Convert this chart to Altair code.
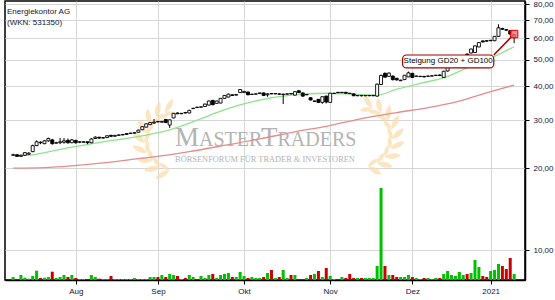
import math
import altair as alt
import pandas as pd

# ---- data: trading-day index 0 = 10 Jul 2020 ... 128 = 12 Jan 2021 ----
opens = [22.3, 22.4, 22.1, 22.3, 22.5, 23.0, 24.2, 24.9, 24.6, 25.2,
         25.4, 24.7, 24.8, 24.9, 25.3, 24.8, 25.3, 24.9, 24.9, 25.0,
         24.8, 25.7, 26.0, 25.8, 25.9, 26.4, 26.2, 26.4, 26.5, 26.6,
         26.8, 26.9, 27.1, 27.7, 28.3, 28.9, 29.3, 29.7, 29.5, 30.2,
         28.8, 30.6, 31.9, 31.7, 32.0, 31.9, 33.1, 33.5, 33.5, 33.7,
         34.1, 35.5, 34.6, 34.7, 36.1, 36.5, 37.2, 37.1, 37.9, 37.9,
         38.1, 37.3, 37.4, 37.6, 37.8, 37.2, 37.6, 37.5, 37.5, 37.3,
         37.4, 37.6, 37.1, 38.5, 37.8, 37.2, 36.3, 35.2, 35.8, 34.9,
         36.8, 34.9, 37.6, 38.0, 37.9, 38.0, 37.7, 37.5, 36.9, 37.0,
         36.9, 36.9, 36.9, 36.8, 40.6, 44.6, 43.5, 43.6, 42.8, 41.9,
         42.3, 43.3, 44.6, 43.5, 43.4, 43.5, 43.5, 43.6, 43.8, 44.0,
         43.1, 45.5, 47.0, 48.2, 49.0, 50.5, 52.5, 53.0, 53.2, 55.8,
         58.7, 58.8, 58.8, 58.8, 61.0, 65.2, 64.6, 64.0, 60.5]
highs = [22.6, 22.5, 22.4, 22.9, 22.9, 24.4, 25.3, 25.1, 25.4, 25.9,
         25.6, 25.0, 25.8, 25.8, 25.7, 25.6, 25.4, 25.1, 25.1, 25.0,
         25.8, 26.2, 26.0, 26.0, 26.4, 26.5, 26.5, 26.6, 26.7, 26.9,
         27.0, 27.1, 27.7, 28.5, 29.2, 29.6, 30.3, 29.8, 29.8, 30.3,
         30.2, 31.9, 32.0, 31.9, 32.1, 32.8, 33.3, 33.6, 33.7, 34.5,
         35.4, 35.6, 35.4, 36.2, 37.1, 37.6, 37.3, 37.4, 39.0, 38.4,
         38.2, 37.5, 37.6, 37.9, 37.9, 37.7, 37.7, 37.7, 37.6, 37.6,
         37.6, 37.7, 38.3, 38.6, 37.9, 37.4, 36.4, 35.4, 35.9, 36.7,
         36.9, 37.8, 37.8, 38.1, 38.1, 38.1, 37.8, 37.6, 37.1, 37.1,
         37.1, 37.1, 37.2, 40.9, 44.2, 45.0, 45.0, 43.8, 42.9, 42.3,
         44.0, 45.3, 44.8, 43.8, 43.7, 43.6, 43.8, 43.9, 44.1, 44.2,
         45.6, 47.3, 48.5, 49.4, 50.9, 52.1, 52.8, 55.0, 56.5, 58.1,
         58.9, 59.0, 59.2, 61.2, 67.6, 65.6, 64.9, 64.3, 62.2]
lows = [22.2, 22.0, 22.0, 22.2, 22.4, 22.9, 24.1, 24.5, 24.5, 25.0,
        24.4, 24.6, 24.5, 24.6, 24.6, 24.7, 24.6, 24.7, 24.8, 24.5,
        24.7, 25.6, 25.6, 25.7, 25.8, 26.0, 26.1, 26.3, 26.4, 26.5,
        26.7, 26.8, 27.0, 27.6, 28.2, 28.8, 29.1, 29.4, 29.4, 29.3,
        28.1, 30.5, 31.6, 31.6, 31.8, 31.8, 33.0, 33.3, 33.4, 33.6,
        34.0, 34.1, 34.5, 34.6, 36.0, 36.4, 36.9, 37.0, 37.8, 37.8,
        37.1, 37.2, 37.3, 37.5, 36.8, 36.6, 37.4, 37.4, 37.2, 34.4,
        37.3, 37.4, 37.0, 37.8, 36.6, 37.1, 35.5, 35.0, 34.7, 34.5,
        34.6, 34.8, 37.5, 37.7, 37.8, 37.6, 37.5, 36.8, 36.8, 36.7,
        36.8, 36.8, 36.8, 36.6, 40.4, 43.0, 43.3, 42.0, 42.0, 41.8,
        42.2, 43.2, 42.9, 43.4, 43.3, 43.1, 43.4, 43.5, 43.7, 43.7,
        43.0, 45.3, 46.8, 48.0, 48.8, 50.3, 51.2, 52.8, 53.0, 55.6,
        58.0, 58.4, 58.6, 58.6, 60.8, 64.4, 63.9, 61.9, 57.6]
closes = [22.4, 22.1, 22.3, 22.8, 22.7, 24.2, 25.0, 24.8, 25.2, 25.7,
          24.6, 24.8, 25.0, 25.2, 24.8, 25.4, 24.8, 25.0, 25.0, 24.8,
          25.6, 26.0, 25.8, 25.9, 26.3, 26.2, 26.4, 26.5, 26.6, 26.8,
          26.9, 27.0, 27.6, 28.4, 29.1, 29.4, 29.5, 29.6, 29.7, 29.4,
          30.1, 31.8, 31.7, 31.8, 31.9, 32.6, 33.2, 33.4, 33.6, 34.4,
          35.3, 34.2, 35.3, 36.1, 37.0, 37.4, 37.0, 37.3, 38.9, 38.3,
          37.2, 37.4, 37.5, 37.8, 37.0, 37.5, 37.5, 37.6, 37.4, 37.4,
          37.5, 37.5, 38.2, 37.9, 36.8, 37.3, 35.6, 35.3, 34.9, 36.6,
          35.0, 37.7, 37.7, 37.9, 38.0, 37.7, 37.6, 36.9, 37.0, 36.9,
          37.0, 37.0, 37.0, 40.7, 43.8, 43.2, 44.7, 42.3, 42.2, 42.1,
          43.9, 44.8, 43.1, 43.6, 43.5, 43.3, 43.6, 43.7, 43.9, 43.8,
          45.4, 47.0, 48.2, 49.1, 50.6, 51.8, 51.6, 54.8, 56.3, 57.9,
          58.2, 58.6, 59.0, 61.0, 65.6, 64.8, 64.3, 62.2, 61.8]
volumes = [30, 10, 50, 23, 13, 40, 93, 20, 23, 30,
           83, 20, 30, 50, 30, 50, 20, 10, 10, 10,
           50, 30, 13, 10, 10, 40, 10, 10, 10, 10,
           10, 20, 10, 10, 10, 30, 30, 30, 50, 30,
           60, 50, 40, 10, 20, 50, 30, 10, 40, 20,
           50, 60, 20, 50, 60, 70, 30, 30, 80, 40,
           20, 30, 20, 20, 30, 70, 100, 20, 30, 100,
           20, 50, 50, 10, 10, 20, 50, 60, 90, 30,
           120, 40, 10, 10, 30, 20, 60, 20, 20, 20,
           20, 20, 20, 140, 920, 140, 50, 50, 30, 30,
           30, 50, 30, 20, 10, 20, 20, 10, 20, 20,
           60, 90, 50, 40, 80, 50, 60, 70, 200, 130,
           40, 30, 90, 100, 160, 140, 110, 220, 60]

gd20_idx = [0, 4, 8, 15, 23, 31, 39, 47, 55, 63, 71, 80, 88, 93, 98, 104, 110, 117, 123, 128]
gd20_val = [22.3, 22.3, 22.8, 23.9, 25.0, 26.0, 27.4, 30.0, 33.2, 35.6, 37.1, 37.7, 37.3, 37.1,
            39.0, 41.0, 42.9, 47.5, 51.5, 55.9]
gd100_idx = [0, 8, 15, 23, 31, 36, 45, 55, 63, 72, 80, 90, 98, 106, 114, 122, 128]
gd100_val = [20.0, 20.1, 20.4, 20.9, 21.6, 22.0, 23.0, 24.4, 25.6, 27.2, 28.5, 30.6, 32.0,
             33.4, 35.3, 38.2, 40.4]

month_ticks = [16, 37, 59, 81, 102, 122]
month_labels = ["Aug", "Sep", "Okt", "Nov", "Dez", "2021"]
price_ticks = [10, 20, 30, 40, 50, 60, 70, 80]

title_lines = ["Energiekontor AG", "(WKN: 531350)"]
annot_text = "Steigung GD20 + GD100"
annot_box_i = [99.5, 122.8]
annot_box_p = [46.7, 52.1]
annot_target = [128.0, 62.2]
wm_parts = ["M", "ASTER", "T", "RADERS"]
wm_sub = "BÖRSENFORUM FÜR TRADER & INVESTOREN"

# ---- frames ----
n = len(closes)
df = pd.DataFrame({"i": list(range(n)), "o": opens, "h": highs, "l": lows,
                   "c": closes, "v": volumes})
gd20 = pd.DataFrame({"i": gd20_idx, "p": gd20_val})
gd100 = pd.DataFrame({"i": gd100_idx, "p": gd100_val})
annot = pd.DataFrame({"i1": [annot_box_i[0]], "i2": [annot_box_i[1]],
                      "p1": [annot_box_p[0]], "p2": [annot_box_p[1]],
                      "im": [(annot_box_i[0] + annot_box_i[1]) / 2],
                      "pm": [math.sqrt(annot_box_p[0] * annot_box_p[1])],
                      "ti": [annot_target[0]], "tp": [annot_target[1]],
                      "t": [annot_text]})

label_expr = ""
for v, lab in zip(month_ticks, month_labels):
    label_expr += f"datum.value == {v} ? '{lab}' : "
label_expr += "''"

x_scale = alt.Scale(domain=[-0.8, 129.5], nice=False, zero=False)
x_axis = alt.Axis(values=month_ticks, labelExpr=label_expr, title=None, grid=True,
                  tickSize=4, labelPadding=3, labelFlush=False)
y_scale = alt.Scale(type="log", domain=[7.76, 82.3], nice=False, zero=False)
y_axis = alt.Axis(orient="right", values=price_ticks, title=None, grid=True, tickSize=4,
                  labelPadding=4,
                  labelExpr="replace(format(datum.value, '.2f'), '.', ',')")


def X(field):
    return alt.X(field, scale=x_scale, axis=x_axis)


def Y(field):
    return alt.Y(field, scale=y_scale, axis=y_axis)


up = "datum.c >= datum.o"
base = alt.Chart(df)

wick = base.mark_rule(color="black", strokeWidth=1).encode(x=X("i:Q"), y=Y("l:Q"), y2="h:Q")
body = base.mark_bar(size=3, stroke="black", strokeWidth=0.9).encode(
    x=X("i:Q"), y=Y("o:Q"), y2="c:Q",
    fill=alt.condition(up, alt.value("white"), alt.value("black")))

line20 = alt.Chart(gd20).mark_line(color="#8ee38e", strokeWidth=1.3, interpolate="monotone").encode(
    x=X("i:Q"), y=Y("p:Q"))
line100 = alt.Chart(gd100).mark_line(color="#e58d8d", strokeWidth=1.3, interpolate="monotone").encode(
    x=X("i:Q"), y=Y("p:Q"))

ann = alt.Chart(annot)
ann_line = ann.mark_rule(color="#a00000", strokeWidth=1.5).encode(
    x=X("i2:Q"), x2="ti:Q", y=Y("p2:Q"), y2="tp:Q")
ann_box = ann.mark_rect(fill="white", stroke="#a00000", strokeWidth=1.2, cornerRadius=4).encode(
    x=X("i1:Q"), x2="i2:Q", y=Y("p1:Q"), y2="p2:Q")
ann_txt = ann.mark_text(font="Liberation Sans", fontSize=8, color="black").encode(
    x=X("im:Q"), y=Y("pm:Q"), text="t:N")
ann_sq = ann.mark_point(shape="square", size=56, filled=True, fill="#ff6868", fillOpacity=0.75,
                        stroke="#dd0000", strokeWidth=1, opacity=1).encode(
    x=X("ti:Q"), y=Y("tp:Q"))

price = alt.layer(line100, line20, wick, body, ann_line, ann_box, ann_txt, ann_sq)

vol = base.mark_bar(size=3).encode(
    x=X("i:Q"),
    y=alt.Y("v:Q", scale=alt.Scale(domain=[0, 2790], nice=False, zero=True), axis=None),
    color=alt.condition(up, alt.value("#00c000"), alt.value("#cc0000")))


# ---- decorations (watermark, title) ----
def laurel_path(side):
    parts = []
    c, r = 0.55, 0.85
    for k in range(9):
        th = math.radians(-80 + k * 19)
        bx, by = c - r * math.cos(th), -r * math.sin(th)
        tx, ty = math.sin(th), -math.cos(th)
        ox, oy = -math.cos(th), -math.sin(th)
        for mix, L, w in ((0.9, 0.46, 0.16), (-0.5, 0.36, 0.13)):
            dx, dy = tx + mix * ox, ty + mix * oy
            m = math.hypot(dx, dy)
            dx, dy = dx / m, dy / m
            px, py = -dy, dx
            ex, ey = bx + L * dx, by + L * dy
            c1 = (bx + 0.5 * L * dx + w * px, by + 0.5 * L * dy + w * py)
            c2 = (bx + 0.5 * L * dx - w * px, by + 0.5 * L * dy - w * py)
            pts = [(bx, by), c1, (ex, ey), c2]
            pts = [(side * a, b) for a, b in pts]
            parts.append("M{:.3f},{:.3f}Q{:.3f},{:.3f} {:.3f},{:.3f}Q{:.3f},{:.3f} {:.3f},{:.3f}Z".format(
                pts[0][0], pts[0][1], pts[1][0], pts[1][1], pts[2][0], pts[2][1],
                pts[3][0], pts[3][1], pts[0][0], pts[0][1]))
    return " ".join(parts)


one = pd.DataFrame({"k": [0]})
laurel_l = alt.Chart(one).mark_point(shape=laurel_path(1), size=4900, filled=True,
                                     fill="#fbdcae", opacity=0.75, strokeWidth=0).encode(
    x=alt.value(150), y=alt.value(140))
laurel_r = alt.Chart(one).mark_point(shape=laurel_path(-1), size=4900, filled=True,
                                     fill="#fbdcae", opacity=0.75, strokeWidth=0).encode(
    x=alt.value(377), y=alt.value(136))

wm_x = [170, 194, 256, 272.5]
wm_size = [27, 20, 27, 20]
wm_layers = []
for txt, xx, fs in zip(wm_parts, wm_x, wm_size):
    wm_layers.append(alt.Chart(one).mark_text(text=txt, font="Liberation Serif", fontSize=fs,
                                              color="#b3b3b3", align="left",
                                              baseline="alphabetic").encode(
        x=alt.value(xx), y=alt.value(145)))
wm_layers.append(alt.Chart(one).mark_text(text=wm_sub, font="Liberation Serif", fontSize=8.4,
                                          color="#b3b3b3", align="center",
                                          baseline="alphabetic").encode(
    x=alt.value(260), y=alt.value(161)))

titles = []
for txt, yy in zip(title_lines, [13, 24]):
    titles.append(alt.Chart(one).mark_text(text=txt, font="Liberation Sans", fontSize=8,
                                           color="#14143a", align="left",
                                           baseline="alphabetic").encode(
        x=alt.value(2), y=alt.value(yy)))

chart = alt.layer(laurel_l, laurel_r, *wm_layers, vol, price, *titles).resolve_scale(
    y="independent"
).properties(
    width=520, height=279, autosize="none",
    padding={"left": 5, "top": 1, "right": 30, "bottom": 20},
    background="white",
).configure_view(
    stroke="black", strokeWidth=1.5
).configure_axis(
    labelFont="Liberation Sans", labelFontSize=8, labelColor="#14143a",
    tickColor="black", domainColor="black", domainWidth=1.5, tickWidth=1,
    gridColor="#d6d6d6", gridWidth=1,
)

chart.save("out.html", embed_options={"renderer": "svg", "actions": False})
